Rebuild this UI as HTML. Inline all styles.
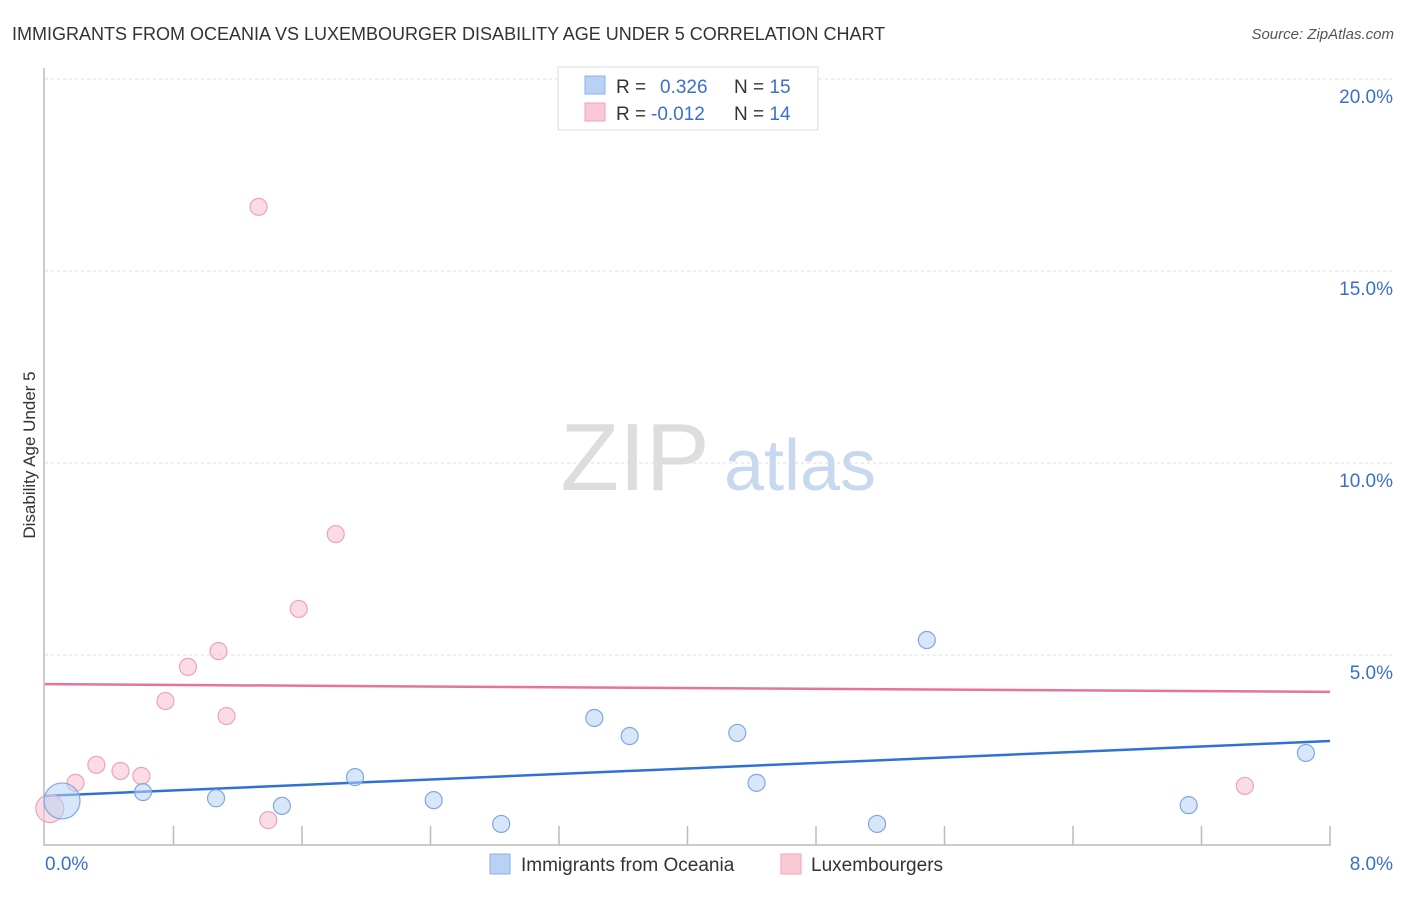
<!DOCTYPE html>
<html><head><meta charset="utf-8"><style>
body{margin:0;background:#fff;font-family:"Liberation Sans",sans-serif;}
svg text{font-family:"Liberation Sans",sans-serif;}
</style></head><body>
<svg id="chart" width="1406" height="892">
<text x="12" y="40" font-size="18" fill="#333">IMMIGRANTS FROM OCEANIA VS LUXEMBOURGER DISABILITY AGE UNDER 5 CORRELATION CHART</text>
<text x="1394" y="39" font-size="15" fill="#555" font-style="italic" text-anchor="end">Source: ZipAtlas.com</text>
<text x="35" y="455" font-size="17" fill="#333" text-anchor="middle" transform="rotate(-90 35 455)">Disability Age Under 5</text>
<g><text x="635" y="490" font-size="96" fill="#ddd" text-anchor="middle" font-family="Liberation Serif,serif">ZIP</text><text x="800" y="490" font-size="72" fill="#c8d8ef" text-anchor="middle">atlas</text></g>
<g id="grid"></g><g id="axes"></g><g id="lines"></g><g id="points"></g>
<g>
<rect x="558" y="67" width="260" height="63" fill="#fff" stroke="#ddd"/>
<rect x="585" y="76" width="20" height="18" fill="#b8d2f4" stroke="#8db3e6"/>
<rect x="585" y="103" width="20" height="18" fill="#f9c9d6" stroke="#eea3b9"/>
<text x="616" y="93" font-size="19" fill="#333">R = <tspan fill="#3a6fcf" x="660">0.326</tspan><tspan fill="#333" x="734">N = </tspan><tspan fill="#3a6fcf">15</tspan></text>
<text x="616" y="120" font-size="19" fill="#333">R = <tspan fill="#3a6fcf" x="651">-0.012</tspan><tspan fill="#333" x="734">N = </tspan><tspan fill="#3a6fcf">14</tspan></text>
</g>
<g>
<rect x="490" y="854" width="20" height="20" fill="#b8d2f4" stroke="#8db3e6"/>
<text x="521" y="871" font-size="19" fill="#333">Immigrants from Oceania</text>
<rect x="781" y="854" width="20" height="20" fill="#f9c9d6" stroke="#eea3b9"/>
<text x="811" y="871" font-size="19" fill="#333">Luxembourgers</text>
</g>
</svg>
<script>
const blueX=[0.106,0.61,1.065,1.475,1.93,2.42,2.84,3.42,3.64,4.31,4.43,5.18,5.49,7.12,7.85];
const blueY=[1.20,1.43,1.27,1.07,1.82,1.22,0.60,3.36,2.89,2.97,1.67,0.60,5.39,1.09,2.45];
const blueR=[18,8.5,8.5,8.5,8.5,8.5,8.5,8.5,8.5,8.5,8.5,8.5,8.5,8.5,8.5];
const pinkX=[0.03,0.19,0.32,0.47,0.60,0.75,0.89,1.08,1.13,1.33,1.39,1.58,1.81,7.47];
const pinkY=[1.00,1.67,2.14,1.98,1.85,3.80,4.69,5.10,3.41,16.67,0.70,6.20,8.15,1.59];
const pinkR=[14,8.5,8.5,8.5,8.5,8.5,8.5,8.5,8.5,8.5,8.5,8.5,8.5,8.5];
const blueTrend=[1.33,2.76];
const pinkTrend=[4.24,4.04];
const yTicks=[5,10,15,20];
const yTickLabels=["5.0%","10.0%","15.0%","20.0%"];
const xTickCount=10;
const xMax=8;
const NS="http://www.w3.org/2000/svg";
const X=v=>45+v/xMax*1285;
const Y=v=>847-v*38.4;
function mk(tag,attrs,parent){const e=document.createElementNS(NS,tag);for(const k in attrs)e.setAttribute(k,attrs[k]);document.getElementById(parent).appendChild(e);return e;}
yTicks.forEach((t,i)=>{
 const g=mk('line',{x1:45,x2:1394,y1:Y(t),y2:Y(t),stroke:'#ddd','stroke-dasharray':'3,3'},'grid');
 
 
 const l=mk('text',{x:1393,y:Y(t)+24,'font-size':19,fill:'#3a6fcf','text-anchor':'end'},'grid');
 l.textContent=yTickLabels[i];
 
 
});
const ax=mk('path',{d:'M44,68 V845 H1331',stroke:'#bbb','stroke-width':1.5,fill:'none'},'axes');


for(let i=1;i<=xTickCount;i++){
 const t=mk('line',{x1:X(i*xMax/xTickCount),x2:X(i*xMax/xTickCount),y1:826,y2:845,stroke:'#bbb','stroke-width':1.5},'axes');
 
 
}
const x0=mk('text',{x:45,y:870,'font-size':19,fill:'#3a6fcf'},'axes');x0.textContent='0.0%';


const x1=mk('text',{x:1393,y:870,'font-size':19,fill:'#3a6fcf','text-anchor':'end'},'axes');x1.textContent='8.0%';


pinkX.forEach((v,i)=>{const c=mk('circle',{cx:X(v),cy:Y(pinkY[i]),r:pinkR[i],fill:'rgba(248,190,207,0.55)',stroke:'#eea3b9','stroke-width':1.2},'points');
 
 });
blueX.forEach((v,i)=>{const c=mk('circle',{cx:X(v),cy:Y(blueY[i]),r:blueR[i],fill:'rgba(184,210,244,0.55)',stroke:'#7ea8e0','stroke-width':1.2},'points');
 
 });
const bl=mk('line',{x1:X(0),x2:X(xMax),y1:Y(blueTrend[0]),y2:Y(blueTrend[1]),stroke:'#2f72d6','stroke-width':2.5},'lines');


const pl=mk('line',{x1:X(0),x2:X(xMax),y1:Y(pinkTrend[0]),y2:Y(pinkTrend[1]),stroke:'#e8739a','stroke-width':2.5},'lines');


</script>
</body></html>
